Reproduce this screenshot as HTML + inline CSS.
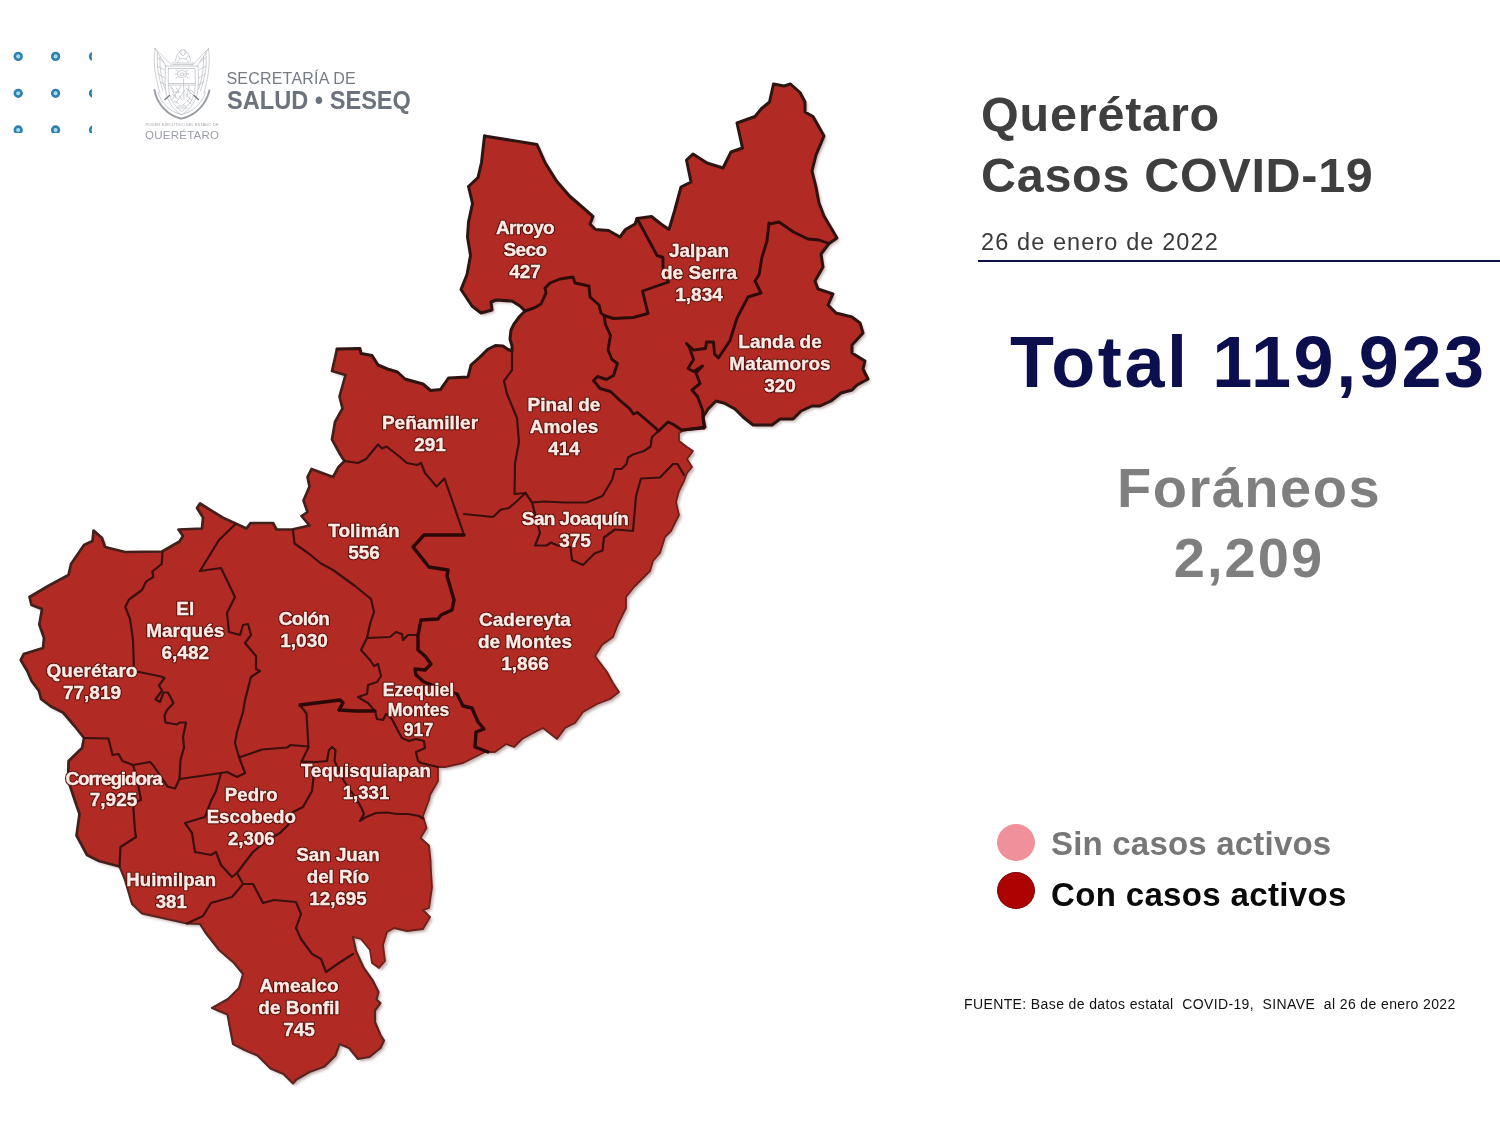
<!DOCTYPE html>
<html lang="es">
<head>
<meta charset="utf-8">
<title>Querétaro Casos COVID-19</title>
<style>
html,body{margin:0;padding:0;background:#fff;}
body{width:1500px;height:1125px;position:relative;overflow:hidden;font-family:"Liberation Sans",Arial,sans-serif;}
.abs{position:absolute;white-space:nowrap;line-height:1;}
.map{position:absolute;left:0;top:0;}
.lbl text{font-family:"Liberation Sans",Arial,sans-serif;font-weight:bold;fill:#ffe9e4;stroke:#ffe9e4;stroke-width:0.35px;}
.lblsh text{font-family:"Liberation Sans",Arial,sans-serif;font-weight:bold;fill:#5a120e;stroke:#5a120e;stroke-width:2.6px;stroke-linejoin:round;}
.dots{position:absolute;left:0;top:0;width:92px;height:133px;overflow:hidden;}
.t1{left:981px;top:89.5px;font-size:48.5px;font-weight:bold;color:#3f3f3f;letter-spacing:0.8px;}
.t2{left:981px;top:150.5px;font-size:48.5px;font-weight:bold;color:#3f3f3f;letter-spacing:0.7px;}
.date{left:981px;top:230.5px;font-size:23.5px;color:#3a3a3a;letter-spacing:1.1px;}
.rule{position:absolute;left:978px;top:260px;width:522px;height:2px;background:#0f1048;}
.total{left:1010px;top:326px;font-size:72px;font-weight:bold;color:#0c0f4d;letter-spacing:2.6px;}
.for1{left:1000px;width:498px;text-align:center;top:459.6px;font-size:56px;font-weight:bold;color:#7f7f7f;letter-spacing:1.5px;}
.for2{left:1000px;width:498px;text-align:center;top:530px;font-size:56px;font-weight:bold;color:#7f7f7f;letter-spacing:2.1px;}
.c1{position:absolute;left:997px;top:824px;width:38px;height:37px;border-radius:50%;background:#f0909b;}
.c2{position:absolute;left:997px;top:872px;width:36px;height:35px;border-radius:50%;background:#ad0202;border:1px solid #7d0b0b;}
.l1{left:1051px;top:827.4px;font-size:33px;font-weight:bold;color:#777;letter-spacing:0.2px;}
.l2{left:1051px;top:877.6px;font-size:33px;font-weight:bold;color:#0a0a0a;letter-spacing:0.35px;}
.src{left:964px;top:996.7px;font-size:14px;color:#111;white-space:pre;letter-spacing:0.385px;}
.sec1{left:226.500px;top:70.8px;font-size:16px;color:#747b84;letter-spacing:0.2px;}
.sec2{left:226.500px;top:88.1px;font-size:25.6px;font-weight:bold;color:#6c737c;letter-spacing:0px;transform:scaleX(0.922);transform-origin:0 0;}
</style>
</head>
<body>
<svg class="map" width="900" height="1125" viewBox="0 0 900 1125">
<defs><filter id="sh" x="-5%" y="-5%" width="110%" height="110%"><feGaussianBlur stdDeviation="1.6"/></filter><filter id="tb" x="-5%" y="-5%" width="110%" height="110%"><feGaussianBlur stdDeviation="0.7"/></filter><clipPath id="mc"><polygon points="484.5,136 537,144.5 545,162.5 556.5,181 569.5,196 580.5,205.5 593,216.5 590,224 595.5,229.5 608.5,230.5 620,237 625.5,229.5 635,224 637,218.5 651.5,216.5 661,224 669,229.5 674.5,211 681,187 691,182 686.5,160 693,154 707,163 723,168 731,152 742.5,148 737,123 755,116.5 761.5,108.5 769.5,102 773.5,84 784,86 790.5,84 800,92.5 805,102 805,112 813,116.5 824,136 816,155 812,171 816,187 819,203 824,216 837,238 829,243.5 821,254 823,267 815,281 818,289 833,294 828,305 836,313 852,317 860,323 863,333 852,345 852,353 865,361 863,369 868,379 857,385 852,390 841,393 831,401 820,406 812,406 801,411 793,419 780,419 772,425 753,425 743,417 735,409 724,403 716,401 708,409 703,417 705,427 684,430 679,433 679,441 687,447 693,451 687,459 692,467 687,473 684,481 679,491 676,502 679,515 671,531 665,537 660,553 653,561 650,571 634,587 626,597 626,608 618,624 613,637 602,645 595,656 607,672 613,683 619,692 610,699 597,704 583,712 575,723 565,728 557,739 543,728 533,733 522,739 514,747 506,744 495,752 485,752 463,763 445,767 438,767 438,781 430,795 429,800 423,816 426.5,828 420.5,838 429,845.5 430.5,860 431,872 432,887 429,908 423,910 430,917 423,929 407,931 394,928 387,932 383,945 385,961 379,968 372,963 370,950 361,939 353,937 356,951 363.5,967.5 373,981 378.5,992 376.5,999.5 380.5,1003 375,1010.5 375,1022 380.5,1035 384,1040.5 380.5,1048 369.5,1057 358,1059 349,1048 339.5,1044 335.5,1055.5 324.5,1066.5 309.5,1072 296.5,1079.5 293,1083.5 283.5,1074 270.5,1068.5 257.5,1055.5 244.5,1050 233,1044 229.5,1025.5 227.5,1014.5 212,1008 228,999 239,988 243,974 234,963 219,950 205,932 200,924 187,923.5 160,917.5 142,913.5 132,904 124.5,878.5 119.5,866.5 99,861 87,855 76.5,835.5 79.5,814 75,801 68,780 68.6,761 82,748 84,738 74.5,726 63,712.5 51,706.5 41,699 39,691 31.5,681 27.5,671.5 20.7,660 23.7,654 43,648 44,638 39.3,624.5 42,609 31.5,605 29.5,597 49,585.5 68.5,575 71,564 84,545 92.5,541 93.6,530.5 102,538 105,547 125,552 162,551.5 179.5,541.5 183,536 178.5,529.5 202,528.5 203,517.5 197,508 200,503.5 222.5,517.5 246.5,528.5 250.5,523 273,523 276.5,529.5 292,529.5 309.5,525.5 301.5,516 307.5,512 303.5,500.5 309.5,486.5 307.5,477 311.5,469 333,477 338.5,467 344.5,461 340.5,455 332,439.5 335,422 342.5,408.5 339.5,396.5 345.5,375 332,371 337,349 360,348.5 361,353.5 372,355.5 378,365 387.5,369 397.5,372 405,379 423,384 430.5,390.5 440.5,389.5 448.5,378 468,377 471,365 480,357 487.5,349.5 495.5,345.5 503,346 508,349.5 512,351 512,346 510,339 511,330 514,324 520,316 525,311 520,306 512,301 496,300 491,302 492,310 481,313 472,306 461,289.5 467,274.5 470.5,255.5 467.5,237 468.5,222 472.5,203.5 468.5,186.5 478,177.5 481.5,162.5"/></clipPath></defs>
<polygon points="484.5,136 537,144.5 545,162.5 556.5,181 569.5,196 580.5,205.5 593,216.5 590,224 595.5,229.5 608.5,230.5 620,237 625.5,229.5 635,224 637,218.5 651.5,216.5 661,224 669,229.5 674.5,211 681,187 691,182 686.5,160 693,154 707,163 723,168 731,152 742.5,148 737,123 755,116.5 761.5,108.5 769.5,102 773.5,84 784,86 790.5,84 800,92.5 805,102 805,112 813,116.5 824,136 816,155 812,171 816,187 819,203 824,216 837,238 829,243.5 821,254 823,267 815,281 818,289 833,294 828,305 836,313 852,317 860,323 863,333 852,345 852,353 865,361 863,369 868,379 857,385 852,390 841,393 831,401 820,406 812,406 801,411 793,419 780,419 772,425 753,425 743,417 735,409 724,403 716,401 708,409 703,417 705,427 684,430 679,433 679,441 687,447 693,451 687,459 692,467 687,473 684,481 679,491 676,502 679,515 671,531 665,537 660,553 653,561 650,571 634,587 626,597 626,608 618,624 613,637 602,645 595,656 607,672 613,683 619,692 610,699 597,704 583,712 575,723 565,728 557,739 543,728 533,733 522,739 514,747 506,744 495,752 485,752 463,763 445,767 438,767 438,781 430,795 429,800 423,816 426.5,828 420.5,838 429,845.5 430.5,860 431,872 432,887 429,908 423,910 430,917 423,929 407,931 394,928 387,932 383,945 385,961 379,968 372,963 370,950 361,939 353,937 356,951 363.5,967.5 373,981 378.5,992 376.5,999.5 380.5,1003 375,1010.5 375,1022 380.5,1035 384,1040.5 380.5,1048 369.5,1057 358,1059 349,1048 339.5,1044 335.5,1055.5 324.5,1066.5 309.5,1072 296.5,1079.5 293,1083.5 283.5,1074 270.5,1068.5 257.5,1055.5 244.5,1050 233,1044 229.5,1025.5 227.5,1014.5 212,1008 228,999 239,988 243,974 234,963 219,950 205,932 200,924 187,923.5 160,917.5 142,913.5 132,904 124.5,878.5 119.5,866.5 99,861 87,855 76.5,835.5 79.5,814 75,801 68,780 68.6,761 82,748 84,738 74.5,726 63,712.5 51,706.5 41,699 39,691 31.5,681 27.5,671.5 20.7,660 23.7,654 43,648 44,638 39.3,624.5 42,609 31.5,605 29.5,597 49,585.5 68.5,575 71,564 84,545 92.5,541 93.6,530.5 102,538 105,547 125,552 162,551.5 179.5,541.5 183,536 178.5,529.5 202,528.5 203,517.5 197,508 200,503.5 222.5,517.5 246.5,528.5 250.5,523 273,523 276.5,529.5 292,529.5 309.5,525.5 301.5,516 307.5,512 303.5,500.5 309.5,486.5 307.5,477 311.5,469 333,477 338.5,467 344.5,461 340.5,455 332,439.5 335,422 342.5,408.5 339.5,396.5 345.5,375 332,371 337,349 360,348.5 361,353.5 372,355.5 378,365 387.5,369 397.5,372 405,379 423,384 430.5,390.5 440.5,389.5 448.5,378 468,377 471,365 480,357 487.5,349.5 495.5,345.5 503,346 508,349.5 512,351 512,346 510,339 511,330 514,324 520,316 525,311 520,306 512,301 496,300 491,302 492,310 481,313 472,306 461,289.5 467,274.5 470.5,255.5 467.5,237 468.5,222 472.5,203.5 468.5,186.5 478,177.5 481.5,162.5" fill="#8a6a66" opacity="0.55" transform="translate(2.5,2.5)" filter="url(#sh)"/>
<polygon points="484.5,136 537,144.5 545,162.5 556.5,181 569.5,196 580.5,205.5 593,216.5 590,224 595.5,229.5 608.5,230.5 620,237 625.5,229.5 635,224 637,218.5 651.5,216.5 661,224 669,229.5 674.5,211 681,187 691,182 686.5,160 693,154 707,163 723,168 731,152 742.5,148 737,123 755,116.5 761.5,108.5 769.5,102 773.5,84 784,86 790.5,84 800,92.5 805,102 805,112 813,116.5 824,136 816,155 812,171 816,187 819,203 824,216 837,238 829,243.5 821,254 823,267 815,281 818,289 833,294 828,305 836,313 852,317 860,323 863,333 852,345 852,353 865,361 863,369 868,379 857,385 852,390 841,393 831,401 820,406 812,406 801,411 793,419 780,419 772,425 753,425 743,417 735,409 724,403 716,401 708,409 703,417 705,427 684,430 679,433 679,441 687,447 693,451 687,459 692,467 687,473 684,481 679,491 676,502 679,515 671,531 665,537 660,553 653,561 650,571 634,587 626,597 626,608 618,624 613,637 602,645 595,656 607,672 613,683 619,692 610,699 597,704 583,712 575,723 565,728 557,739 543,728 533,733 522,739 514,747 506,744 495,752 485,752 463,763 445,767 438,767 438,781 430,795 429,800 423,816 426.5,828 420.5,838 429,845.5 430.5,860 431,872 432,887 429,908 423,910 430,917 423,929 407,931 394,928 387,932 383,945 385,961 379,968 372,963 370,950 361,939 353,937 356,951 363.5,967.5 373,981 378.5,992 376.5,999.5 380.5,1003 375,1010.5 375,1022 380.5,1035 384,1040.5 380.5,1048 369.5,1057 358,1059 349,1048 339.5,1044 335.5,1055.5 324.5,1066.5 309.5,1072 296.5,1079.5 293,1083.5 283.5,1074 270.5,1068.5 257.5,1055.5 244.5,1050 233,1044 229.5,1025.5 227.5,1014.5 212,1008 228,999 239,988 243,974 234,963 219,950 205,932 200,924 187,923.5 160,917.5 142,913.5 132,904 124.5,878.5 119.5,866.5 99,861 87,855 76.5,835.5 79.5,814 75,801 68,780 68.6,761 82,748 84,738 74.5,726 63,712.5 51,706.5 41,699 39,691 31.5,681 27.5,671.5 20.7,660 23.7,654 43,648 44,638 39.3,624.5 42,609 31.5,605 29.5,597 49,585.5 68.5,575 71,564 84,545 92.5,541 93.6,530.5 102,538 105,547 125,552 162,551.5 179.5,541.5 183,536 178.5,529.5 202,528.5 203,517.5 197,508 200,503.5 222.5,517.5 246.5,528.5 250.5,523 273,523 276.5,529.5 292,529.5 309.5,525.5 301.5,516 307.5,512 303.5,500.5 309.5,486.5 307.5,477 311.5,469 333,477 338.5,467 344.5,461 340.5,455 332,439.5 335,422 342.5,408.5 339.5,396.5 345.5,375 332,371 337,349 360,348.5 361,353.5 372,355.5 378,365 387.5,369 397.5,372 405,379 423,384 430.5,390.5 440.5,389.5 448.5,378 468,377 471,365 480,357 487.5,349.5 495.5,345.5 503,346 508,349.5 512,351 512,346 510,339 511,330 514,324 520,316 525,311 520,306 512,301 496,300 491,302 492,310 481,313 472,306 461,289.5 467,274.5 470.5,255.5 467.5,237 468.5,222 472.5,203.5 468.5,186.5 478,177.5 481.5,162.5" fill="#b12b24"/>
<polyline points="484.5,136 537,144.5 545,162.5 556.5,181 569.5,196 580.5,205.5 593,216.5 590,224 595.5,229.5 608.5,230.5 620,237 625.5,229.5 635,224 637,218.5 651.5,216.5 661,224 669,229.5 674.5,211 681,187 691,182 686.5,160 693,154 707,163 723,168 731,152 742.5,148 737,123 755,116.5 761.5,108.5 769.5,102 773.5,84 784,86 790.5,84 800,92.5 805,102 805,112 813,116.5 824,136 816,155 812,171 816,187 819,203 824,216 837,238 829,243.5 821,254 823,267 815,281 818,289 833,294 828,305 836,313 852,317 860,323 863,333 852,345 852,353 865,361 863,369 868,379 857,385 852,390 841,393 831,401 820,406 812,406 801,411 793,419 780,419 772,425 753,425 743,417 735,409 724,403 716,401 708,409 703,417 705,427 684,430" fill="none" stroke="#2e1511" stroke-width="3.0" stroke-linejoin="round" stroke-linecap="round"/>
<polyline points="684,430 679,433 679,441 687,447 693,451 687,459 692,467 687,473 684,481 679,491 676,502 679,515 671,531 665,537 660,553 653,561 650,571 634,587 626,597 626,608 618,624 613,637 602,645 595,656 607,672 613,683 619,692 610,699 597,704 583,712 575,723 565,728 557,739 543,728 533,733 522,739 514,747 506,744 495,752 485,752 463,763 445,767 438,767 438,781 430,795 429,800 423,816 426.5,828 420.5,838 429,845.5 430.5,860 431,872 432,887 429,908 423,910 430,917 423,929 407,931 394,928 387,932 383,945 385,961 379,968 372,963 370,950 361,939 353,937" fill="none" stroke="#6e211c" stroke-width="1.8" stroke-linejoin="round" stroke-linecap="round"/>
<polyline points="353,937 356,951 363.5,967.5 373,981 378.5,992 376.5,999.5 380.5,1003 375,1010.5 375,1022 380.5,1035 384,1040.5 380.5,1048 369.5,1057 358,1059 349,1048 339.5,1044 335.5,1055.5 324.5,1066.5 309.5,1072 296.5,1079.5 293,1083.5 283.5,1074 270.5,1068.5 257.5,1055.5 244.5,1050 233,1044 229.5,1025.5 227.5,1014.5 212,1008 228,999 239,988 243,974 234,963 219,950 205,932 200,924 187,923.5 160,917.5 142,913.5 132,904 124.5,878.5 119.5,866.5" fill="none" stroke="#5a2521" stroke-width="2.2" stroke-linejoin="round" stroke-linecap="round"/>
<polyline points="119.5,866.5 99,861 87,855 76.5,835.5 79.5,814 75,801 68,780 68.6,761 82,748 84,738 74.5,726 63,712.5 51,706.5 41,699 39,691 31.5,681 27.5,671.5 20.7,660 23.7,654 43,648 44,638 39.3,624.5 42,609 31.5,605 29.5,597 49,585.5 68.5,575 71,564 84,545 92.5,541 93.6,530.5 102,538 105,547 125,552 162,551.5 179.5,541.5 183,536 178.5,529.5 202,528.5 203,517.5 197,508 200,503.5 222.5,517.5 246.5,528.5 250.5,523 273,523 276.5,529.5 292,529.5 309.5,525.5 301.5,516 307.5,512 303.5,500.5 309.5,486.5 307.5,477 311.5,469 333,477 338.5,467 344.5,461 340.5,455 332,439.5 335,422 342.5,408.5 339.5,396.5 345.5,375 332,371 337,349" fill="none" stroke="#43201c" stroke-width="2.7" stroke-linejoin="round" stroke-linecap="round"/>
<polyline points="337,349 360,348.5 361,353.5 372,355.5 378,365 387.5,369 397.5,372 405,379 423,384 430.5,390.5 440.5,389.5 448.5,378 468,377 471,365 480,357 487.5,349.5 495.5,345.5 503,346 508,349.5 512,351 512,346 510,339 511,330 514,324 520,316 525,311 520,306 512,301 496,300 491,302 492,310 481,313 472,306 461,289.5 467,274.5 470.5,255.5 467.5,237 468.5,222 472.5,203.5 468.5,186.5 478,177.5 481.5,162.5 484.5,136" fill="none" stroke="#2e1511" stroke-width="3.0" stroke-linejoin="round" stroke-linecap="round"/>
<g fill="none" stroke="#3a0f0c" stroke-width="2.2" stroke-linejoin="round" stroke-linecap="round">
<polyline points="658.5,431 652,437 650.5,446.5 644,451 633,454.5 628,457.5 626.5,464 621.5,469 615,469 612,480 602.5,496 586.5,502.5 564,502.5 545,501.5 532,502.5 525.5,493"/>
<polyline points="512,351 512,370 504,381 507,394 517,418 519,442 515,463 514.5,494 525.5,493"/>
<polyline points="525.5,493 517,501 509,508 501,509.5 493,517 464,514"/>
<polyline points="344.5,461 358,463 366,459 378,444.5 382,448.5 386.5,446.5 397.5,455 407,463 417,465 421,463 425,473 436.5,486.5 444.5,478.5 452,500 464,535"/>
<polyline points="525.5,493 532,502.5 540,533 535,545.5 546.5,545.5 551,542.5 557.5,545.5 570.5,547 572,560 583,565 594.5,553.5 602.5,550.5 604,537.5 615,529.5 633,531 636,496 641,478.5 660,477.5 673,464 677.5,464 684,475"/>
<polyline points="293,530 294.5,543.5 308,553 321,563.5 333,570 355,586 371,599 374,612 370,624 367,638"/>
<polyline points="367,638 361,650 370,660 374,666 378,664 381,676 377,682 368,685 367,694 358,697 368,703 375,711"/>
<polyline points="375,711 377,719 383,720 386,714 392,719 397,729 402,738 409,741 416,739 424,741 425,748 416,752 418,761 421,763 438,767"/>
<polyline points="367,638 390,637 396,632 402,634 403,640 408,635 418,635"/>
<polyline points="300,705 306.5,713.5 308.5,747.5 301.5,761.5 312,765.5 313.5,778 312,791 303,807 293,812 288,825 280,833 269,839 253,852 243,865 237,873"/>
<polyline points="308,746.5 290.5,745 287,747.5 262,749.5 239,757.5"/>
<polyline points="235.5,524 219,540 200,571 221,568 235,597 227,613 229,632 240,635 243,625 248,624 251,635 245,643 256,656 256,669 260,671 251,677 245,700 243,712 237,732 235,743 239,757"/>
<polyline points="239,757 245,773 237,777 227,772 221,773"/>
<polyline points="180,779 221,773"/>
<polyline points="162.5,552 161.7,564 152.4,571.5 153.3,577 146,581.7 142,590 129,599.5 125.3,607 130,619 133,640 134,671 161,676.5 164.5,678 159,685.5 162,690.5 155.5,699.5 160,702 163.5,692.5 168,692.5 173.5,703 167,710 164.5,715.5 165.5,722.5 177,724.5 179.5,722.5 186,722.5 183,737 184,747.5 180.5,760 179.5,779"/>
<polyline points="84,738 108.5,738.5 112.5,755 118.5,754 122.5,761 133,765"/>
<polyline points="133,765 150,762 153,765 167.5,786.5 175,788.5 179.5,779"/>
<polyline points="133,765 137,779 141,800 133,803 135,831 136,837 120.5,847 119.5,866.5"/>
<polyline points="221,773 216,791 211,801 205,817 185,823 192,833 195,852 211,855 216,852 221,865 232,877 237,873"/>
<polyline points="237,873 243,884 232,897 211,903 203,916 187,923.5"/>
<polyline points="243,884 253,884 263,903 274,900 296,902 301,914 296,928 301,939 312,954 321,959 326,972 339,963 353,954"/>
<polyline points="301.5,761.5 316,762 327,761 329,750 332,747 335.5,750 334.5,761 344,781 357,800 362,809 364,814 360,821 365,817.5 376,813 387,812.500 397,814 408,814 419,816 423,818.5"/>
</g>
<g fill="none" stroke="#2e0b08" stroke-width="2.9" stroke-linejoin="round" stroke-linecap="round">
<polyline points="637,218.5 646,235 657,255.5 663,257.5 663,270.5 668.5,282 642.5,291 648,313.5 633,317.5 613.5,318.5 604,315.5"/>
<polyline points="525,311 534,308 541,304 546,293 545,288 550,283 560,279 573,277 575,283 589,286 590,297 599,305 601,313 604,315.5"/>
<polyline points="604,315.5 605.5,324.5 610.5,335.5 608,350 612,359.5 617.5,363.5 613.5,375.5 606.5,379.5 597.5,376.5 593.5,380.5 600,388.5 610.5,391.5 620,400.5 629.5,408.5 633.5,414 637.5,412.5 655,427.5 658.5,431"/>
<polyline points="658.5,431 668,422 673.5,424.5 681.5,430 704,428"/>
<polyline points="769,223 767,241 762,257 759,275 755,281 761,293 748,297 737,318 730,340.5 718.5,358 714.5,354 713.5,342 706.5,342 705.5,348.5 693.5,350 686.5,343.5 689.5,347.5 693.5,359.5 688,368.5 693.5,371.5 702.5,366 696,373 700,383.5 692,390 697.5,396.5 702.5,410 704,428"/>
<polyline points="769.5,224 779,222 793.5,232 808,239 819,240 829,243.5"/>
</g>
<g fill="none" stroke="#2a0806" stroke-width="3.4" stroke-linejoin="round" stroke-linecap="round">
<polyline points="464,535 424,535 413,547 429,567 448,570 447,576 454,600 452,610 441,615 438,619 421,620 418,635 418,650 425,656 431,664 425,670 415,669 416,675 424,682 440,688 457,694 463,706 472,708 478,722 484,729 476,732 475,747 488,752"/>
<polyline points="300,705 340,700 343,703 339,710 356,711 375,711"/>
</g>
<g class="lblsh" text-anchor="middle" filter="url(#tb)"><text x="525" y="233.7" font-size="19" letter-spacing="-0.75">Arroyo</text><text x="525" y="255.7" font-size="19" letter-spacing="-0.6">Seco</text><text x="525" y="277.7" font-size="19">427</text><text x="699" y="256.7" font-size="19">Jalpan</text><text x="699" y="278.7" font-size="19">de Serra</text><text x="699" y="300.7" font-size="19">1,834</text><text x="780" y="347.5" font-size="19">Landa de</text><text x="780" y="369.5" font-size="19">Matamoros</text><text x="780" y="391.5" font-size="19">320</text><text x="430" y="428.7" font-size="19">Peñamiller</text><text x="430" y="450.7" font-size="19">291</text><text x="564" y="410.5" font-size="19">Pinal de</text><text x="564" y="432.5" font-size="19">Amoles</text><text x="564" y="454.5" font-size="19">414</text><text x="575" y="524.7" font-size="19" letter-spacing="-0.6">San Joaquín</text><text x="575" y="546.7" font-size="19">375</text><text x="364" y="536.7" font-size="19">Tolimán</text><text x="364" y="558.7" font-size="19">556</text><text x="525" y="625.7" font-size="19">Cadereyta</text><text x="525" y="647.7" font-size="19">de Montes</text><text x="525" y="669.7" font-size="19">1,866</text><text x="185.3" y="614.7" font-size="19">El</text><text x="185.3" y="636.7" font-size="19">Marqués</text><text x="185.3" y="658.7" font-size="19">6,482</text><text x="304" y="625.3" font-size="19" letter-spacing="-0.7">Colón</text><text x="304" y="647.3" font-size="19">1,030</text><text x="92" y="677.0" font-size="19">Querétaro</text><text x="92" y="699.0" font-size="19">77,819</text><text x="418.5" y="695.6" font-size="17.6">Ezequiel</text><text x="418.5" y="715.6" font-size="17.6">Montes</text><text x="418.5" y="735.6" font-size="17.6">917</text><text x="366" y="777.3" font-size="18.6">Tequisquiapan</text><text x="366" y="799.3" font-size="18.6">1,331</text><text x="113.5" y="785.0" font-size="19" letter-spacing="-1.15">Corregidora</text><text x="113.5" y="806.0" font-size="19">7,925</text><text x="251.3" y="801.3" font-size="18.7">Pedro</text><text x="251.3" y="823.3" font-size="18.7">Escobedo</text><text x="251.3" y="845.3" font-size="18.7">2,306</text><text x="338" y="861.3" font-size="18.8">San Juan</text><text x="338" y="883.3" font-size="18.8">del Río</text><text x="338" y="905.3" font-size="18.8">12,695</text><text x="171.3" y="886.2" font-size="18.6">Huimilpan</text><text x="171.3" y="908.2" font-size="18.6">381</text><text x="299" y="991.7" font-size="19">Amealco</text><text x="299" y="1013.7" font-size="19">de Bonfil</text><text x="299" y="1035.7" font-size="19">745</text></g>
<g class="lbl" text-anchor="middle"><text x="525" y="233.7" font-size="19" letter-spacing="-0.75">Arroyo</text><text x="525" y="255.7" font-size="19" letter-spacing="-0.6">Seco</text><text x="525" y="277.7" font-size="19">427</text><text x="699" y="256.7" font-size="19">Jalpan</text><text x="699" y="278.7" font-size="19">de Serra</text><text x="699" y="300.7" font-size="19">1,834</text><text x="780" y="347.5" font-size="19">Landa de</text><text x="780" y="369.5" font-size="19">Matamoros</text><text x="780" y="391.5" font-size="19">320</text><text x="430" y="428.7" font-size="19">Peñamiller</text><text x="430" y="450.7" font-size="19">291</text><text x="564" y="410.5" font-size="19">Pinal de</text><text x="564" y="432.5" font-size="19">Amoles</text><text x="564" y="454.5" font-size="19">414</text><text x="575" y="524.7" font-size="19" letter-spacing="-0.6">San Joaquín</text><text x="575" y="546.7" font-size="19">375</text><text x="364" y="536.7" font-size="19">Tolimán</text><text x="364" y="558.7" font-size="19">556</text><text x="525" y="625.7" font-size="19">Cadereyta</text><text x="525" y="647.7" font-size="19">de Montes</text><text x="525" y="669.7" font-size="19">1,866</text><text x="185.3" y="614.7" font-size="19">El</text><text x="185.3" y="636.7" font-size="19">Marqués</text><text x="185.3" y="658.7" font-size="19">6,482</text><text x="304" y="625.3" font-size="19" letter-spacing="-0.7">Colón</text><text x="304" y="647.3" font-size="19">1,030</text><text x="92" y="677.0" font-size="19">Querétaro</text><text x="92" y="699.0" font-size="19">77,819</text><text x="418.5" y="695.6" font-size="17.6">Ezequiel</text><text x="418.5" y="715.6" font-size="17.6">Montes</text><text x="418.5" y="735.6" font-size="17.6">917</text><text x="366" y="777.3" font-size="18.6">Tequisquiapan</text><text x="366" y="799.3" font-size="18.6">1,331</text><text x="113.5" y="785.0" font-size="19" letter-spacing="-1.15">Corregidora</text><text x="113.5" y="806.0" font-size="19">7,925</text><text x="251.3" y="801.3" font-size="18.7">Pedro</text><text x="251.3" y="823.3" font-size="18.7">Escobedo</text><text x="251.3" y="845.3" font-size="18.7">2,306</text><text x="338" y="861.3" font-size="18.8">San Juan</text><text x="338" y="883.3" font-size="18.8">del Río</text><text x="338" y="905.3" font-size="18.8">12,695</text><text x="171.3" y="886.2" font-size="18.6">Huimilpan</text><text x="171.3" y="908.2" font-size="18.6">381</text><text x="299" y="991.7" font-size="19">Amealco</text><text x="299" y="1013.7" font-size="19">de Bonfil</text><text x="299" y="1035.7" font-size="19">745</text></g>
</svg>
<svg class="dots" width="92" height="133" viewBox="0 0 92 133"><g fill="#a5dcf4" stroke="#2f80ae" stroke-width="2.6">
<circle cx="18.2" cy="56.4" r="3.35"/><circle cx="55.6" cy="56.4" r="3.35"/><circle cx="93.5" cy="56.4" r="3.35"/>
<circle cx="18.2" cy="93.3" r="3.35"/><circle cx="55.6" cy="93.3" r="3.35"/><circle cx="93.5" cy="93.3" r="3.35"/>
<circle cx="18.2" cy="130" r="3.35"/><circle cx="55.6" cy="130" r="3.35"/><circle cx="93.5" cy="130" r="3.35"/>
</g></svg>
<svg class="crest" style="position:absolute;left:140px;top:40px" width="90" height="100" viewBox="140 40 90 100">
<g fill="none" stroke="#b3b7bc" stroke-width="0.65" stroke-linejoin="round" stroke-linecap="round">
<path d="M155 48.5 L172 65.5 M155 48.5 C153.5 60 154 74 160 93 M157.5 53 C156.5 64 158 76 163 91 M160 56.500 C159.500 66 161 78 165 89 M155 48.500 L166 66 M158 58 L164 62 M157 66 L164.500 70 M158 74 L165 78 M160 82 L165.500 85"/>
<path d="M208.500 48.500 L192 65.500 M208.500 48.500 C210 60 209.500 74 204 93 M206 53 C207 64 205.500 76 200.500 91 M203.500 56.500 C204 66 202.500 78 198.500 89 M208.500 48.500 L197.500 66 M205.500 58 L199.500 62 M206.500 66 L199 70 M205.500 74 L198.500 78 M203.500 82 L198 85"/>
<path d="M165.500 66 L198 66 C198.500 78 199 90 196 98 C192 107 186 112 181.500 115 C177 112 171 107 167.500 98 C164.500 90 165 78 165.500 66 Z"/>
<path d="M168.500 68.500 L195 68.500 C195.500 80 195.500 90 193.500 96 C190.500 104 185 109 181.500 111.500 C178 109 173 104 170 96 C168 90 168 80 168.500 68.500 Z"/>
<path d="M175.500 61 C176.500 53 180 50 183 50 C186 50 189.500 53 190.500 61 M177.500 62 C179.500 57 186.500 57 188.500 62 M173 64.500 L193 64.500 M172 63 L194 63 M179.500 52.500 L183 56 L186.500 52.500 M181 50 L181 54 M185 50 L185 54 M178 56 L180 59 M188 56 L186 59"/>
<ellipse cx="182" cy="74" rx="4.400" ry="3.400"/><ellipse cx="182" cy="74.300" rx="2.200" ry="1.400"/>
<path d="M176 70 L178.500 72 M188 70 L185.500 72 M175 74 L177.500 74 M189 74 L186.500 74 M176 78 L178.500 76.500 M188 78 L185.500 76.500"/>
<path d="M183.500 79 L184 100 M168.500 83.500 L195.500 83.500 M168.500 85 L195.500 85 M172 100 L181 86 M176 103 L185 90 M186 88 L194 96 M173 92 L180 92 M186 94 L192 101 M178 106 L186 106 M177 108 L187 108"/>
<path d="M171 88 L176 97 M189 86 L187 97 M191 90 L194 93 M170 86 L174 90 M172 94 L178 99 M187 100 L191 104 M179 96 L182 100 M174 101 L179 104 M186 102 L183 105 M190 97 L188 101 M176 88 C178 89 179 91 178 93 M188 89 C190 90 191 92 190 94"/>
</g>
<g fill="none" stroke="#9ba0a7" stroke-linecap="round">
<path d="M154.500 90 C157 104 168 116 181.500 118.500 C195 116 206.500 104 209.500 90" stroke-width="2" stroke-dasharray="1.400 0.700"/>
<path d="M158 92 C161 103 170 112 181.500 114.500 C193 112 202.500 103 205.500 92" stroke-width="0.700" stroke="#b3b7bc"/>
</g>
<g stroke="#767c84" stroke-width="1.400" stroke-linecap="round"><path d="M165 99.500 L169.500 95.500"/><path d="M194 95.500 L198.500 99.500"/></g>
<text x="182" y="126.200" text-anchor="middle" font-family="Liberation Sans, Arial, sans-serif" font-size="4.300" fill="#a3a8ae" textLength="73" lengthAdjust="spacingAndGlyphs">PODER EJECUTIVO DEL ESTADO DE</text>
<text x="182" y="138.800" text-anchor="middle" font-family="Liberation Sans, Arial, sans-serif" font-size="11.500" fill="#9a9fa6" textLength="74" lengthAdjust="spacing">QUERÉTARO</text>
</svg>
<div class="abs sec1">SECRETARÍA DE</div>
<div class="abs sec2">SALUD • SESEQ</div>
<div class="abs t1">Querétaro</div>
<div class="abs t2">Casos COVID-19</div>
<div class="abs date">26 de enero de 2022</div>
<div class="rule"></div>
<div class="abs total">Total 119,923</div>
<div class="abs for1">Foráneos</div>
<div class="abs for2">2,209</div>
<div class="c1"></div><div class="c2"></div>
<div class="abs l1">Sin casos activos</div>
<div class="abs l2">Con casos activos</div>
<div class="abs src">FUENTE: Base de datos estatal  COVID-19,  SINAVE  al 26 de enero 2022</div>
</body>
</html>
